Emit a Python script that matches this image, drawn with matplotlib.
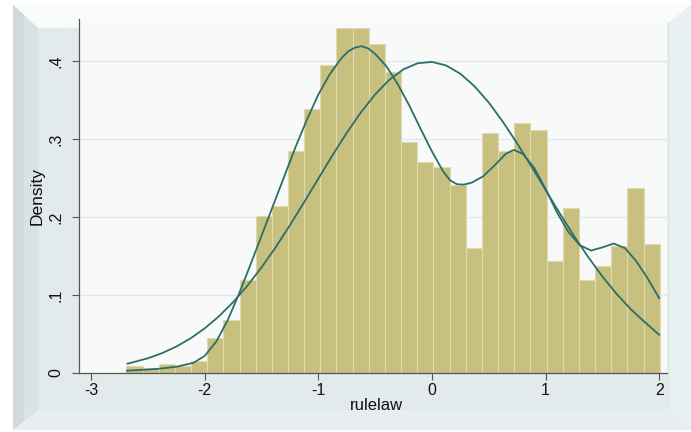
import matplotlib
matplotlib.use("Agg")
import matplotlib.pyplot as plt
from matplotlib.patches import Polygon
import numpy as np

plt.rcParams['font.family'] = ['Liberation Sans', 'DejaVu Sans']

# histogram of rulelaw (33 bins)
bin_start = -2.69
bin_end = 2.005
bar_heights = [0.009, 0.0065, 0.012, 0.0095, 0.015, 0.045, 0.068, 0.119, 0.201, 0.214,
               0.285, 0.338, 0.395, 0.442, 0.442, 0.422, 0.386, 0.296, 0.270, 0.264,
               0.241, 0.160, 0.308, 0.284, 0.320, 0.311, 0.143, 0.211, 0.119, 0.137,
               0.163, 0.237, 0.166]

# kernel density curve
kd_x = [-2.685, -2.55, -2.4, -2.25, -2.1, -2.0, -1.9, -1.8, -1.7, -1.6, -1.5, -1.4,
        -1.3, -1.2, -1.1, -1.0, -0.9, -0.8, -0.74, -0.68, -0.62, -0.56, -0.5, -0.4,
        -0.3, -0.2, -0.1, 0.0, 0.1, 0.16, 0.22, 0.28, 0.35, 0.45, 0.55, 0.65, 0.72,
        0.8, 0.9, 1.0, 1.1, 1.2, 1.3, 1.4, 1.5, 1.6, 1.7, 1.8, 1.9, 2.0]
kd_y = [0.003, 0.004, 0.0055, 0.008, 0.013, 0.022, 0.040, 0.067, 0.101, 0.138, 0.176, 0.214,
        0.252, 0.290, 0.325, 0.357, 0.383, 0.403, 0.412, 0.417, 0.419, 0.416, 0.409, 0.393,
        0.370, 0.343, 0.313, 0.284, 0.258, 0.247, 0.242, 0.2415, 0.244, 0.252, 0.266, 0.281, 0.286,
        0.281, 0.263, 0.236, 0.206, 0.181, 0.164, 0.157, 0.161, 0.166, 0.160, 0.143, 0.121, 0.096]

# normal density curve
nd_x = [-2.68, -2.5, -2.375, -2.25, -2.125, -2.0, -1.875, -1.75, -1.625, -1.5, -1.375,
        -1.25, -1.125, -1.0, -0.875, -0.75, -0.625, -0.5, -0.375, -0.25, -0.125, 0.0,
        0.125, 0.25, 0.375, 0.5, 0.625, 0.75, 0.875, 1.0, 1.125, 1.25, 1.375, 1.5,
        1.625, 1.75, 1.875, 2.0]
nd_y = [0.0119, 0.0189, 0.0255, 0.0339, 0.0444, 0.0573, 0.0727, 0.0909, 0.1118, 0.1354, 0.1614,
        0.1895, 0.2190, 0.2492, 0.2792, 0.3079, 0.3342, 0.3572, 0.3759, 0.3894, 0.3971, 0.3988,
        0.3942, 0.3836, 0.3675, 0.3467, 0.3219, 0.2943, 0.2649, 0.2347, 0.2047, 0.1758, 0.1487, 0.1238,
        0.1014, 0.0818, 0.0650, 0.0490]

x_ticks = [-3, -2, -1, 0, 1, 2]
y_ticks = [0, 0.1, 0.2, 0.3, 0.4]
y_ticklabels = ["0", ".1", ".2", ".3", ".4"]

W, H = 691, 432
fig = plt.figure(figsize=(W / 100, H / 100), dpi=100)
fig.patch.set_facecolor("white")


def px(pts):
    return [(x / W, 1 - y / H) for x, y in pts]


# beveled frame around the graph
frame = [
    ([(13, 5), (691, 5), (691, 430), (13, 430)], "#e3eaec"),
    ([(13, 5), (691, 5), (670, 22), (38, 28)], "#fafbfb"),
    ([(13, 5), (38, 28), (38, 410), (13, 430)], "#d9e2e5"),
    ([(13, 5), (24, 15), (24, 421), (13, 430)], "#d0dadd"),
    ([(691, 5), (691, 430), (670, 410), (670, 22)], "#e9f0f2"),
    ([(13, 430), (38, 410), (670, 410), (691, 430)], "#e7eef0"),
]
for pts, col in frame:
    fig.add_artist(Polygon(px(pts), closed=True, transform=fig.transFigure,
                           facecolor=col, edgecolor="none", zorder=0))

ax = fig.add_axes([79 / W, 1 - 373 / H, (667 - 79) / W, (373 - 19) / H])
ax.set_facecolor("#f8f9f9")

edges = np.linspace(bin_start, bin_end, len(bar_heights) + 1)
ax.bar(edges[:-1], bar_heights, width=np.diff(edges), align="edge",
       color="#c7c07f", edgecolor="#e0dbae", linewidth=0.8, zorder=2)
ax.plot(kd_x, kd_y, color="#2e6e6a", lw=1.3, zorder=3)
ax.plot(nd_x, nd_y, color="#2e6e6a", lw=1.3, zorder=3)

ax.set_xlim(-3.107, 2.069)
ax.set_ylim(0, 0.4538)
ax.set_xticks(x_ticks)
ax.set_xticklabels([str(t) for t in x_ticks])
ax.set_yticks(y_ticks)
ax.set_yticklabels(y_ticklabels, rotation=90, va="center")
for y in y_ticks[1:]:
    ax.axhline(y, color="#dfe8ea", lw=1.0, zorder=1)

for s in ["top", "right"]:
    ax.spines[s].set_visible(False)
for s in ["left", "bottom"]:
    ax.spines[s].set_color("#555555")
    ax.spines[s].set_linewidth(0.9)
ax.tick_params(direction="out", length=5, width=0.8, color="#555555",
               labelsize=11.5, labelcolor="#111111")
ax.tick_params(axis="y", pad=6)
ax.tick_params(axis="x", pad=2)

fig.text(37 / W, 1 - 196 / H, "Density", rotation=90, ha="center", va="center",
         fontsize=12.5, color="#111111")
fig.text(376 / W, 1 - 406 / H, "rulelaw", ha="center", va="center",
         fontsize=12, color="#111111")

fig.savefig("out.png", dpi=100)
